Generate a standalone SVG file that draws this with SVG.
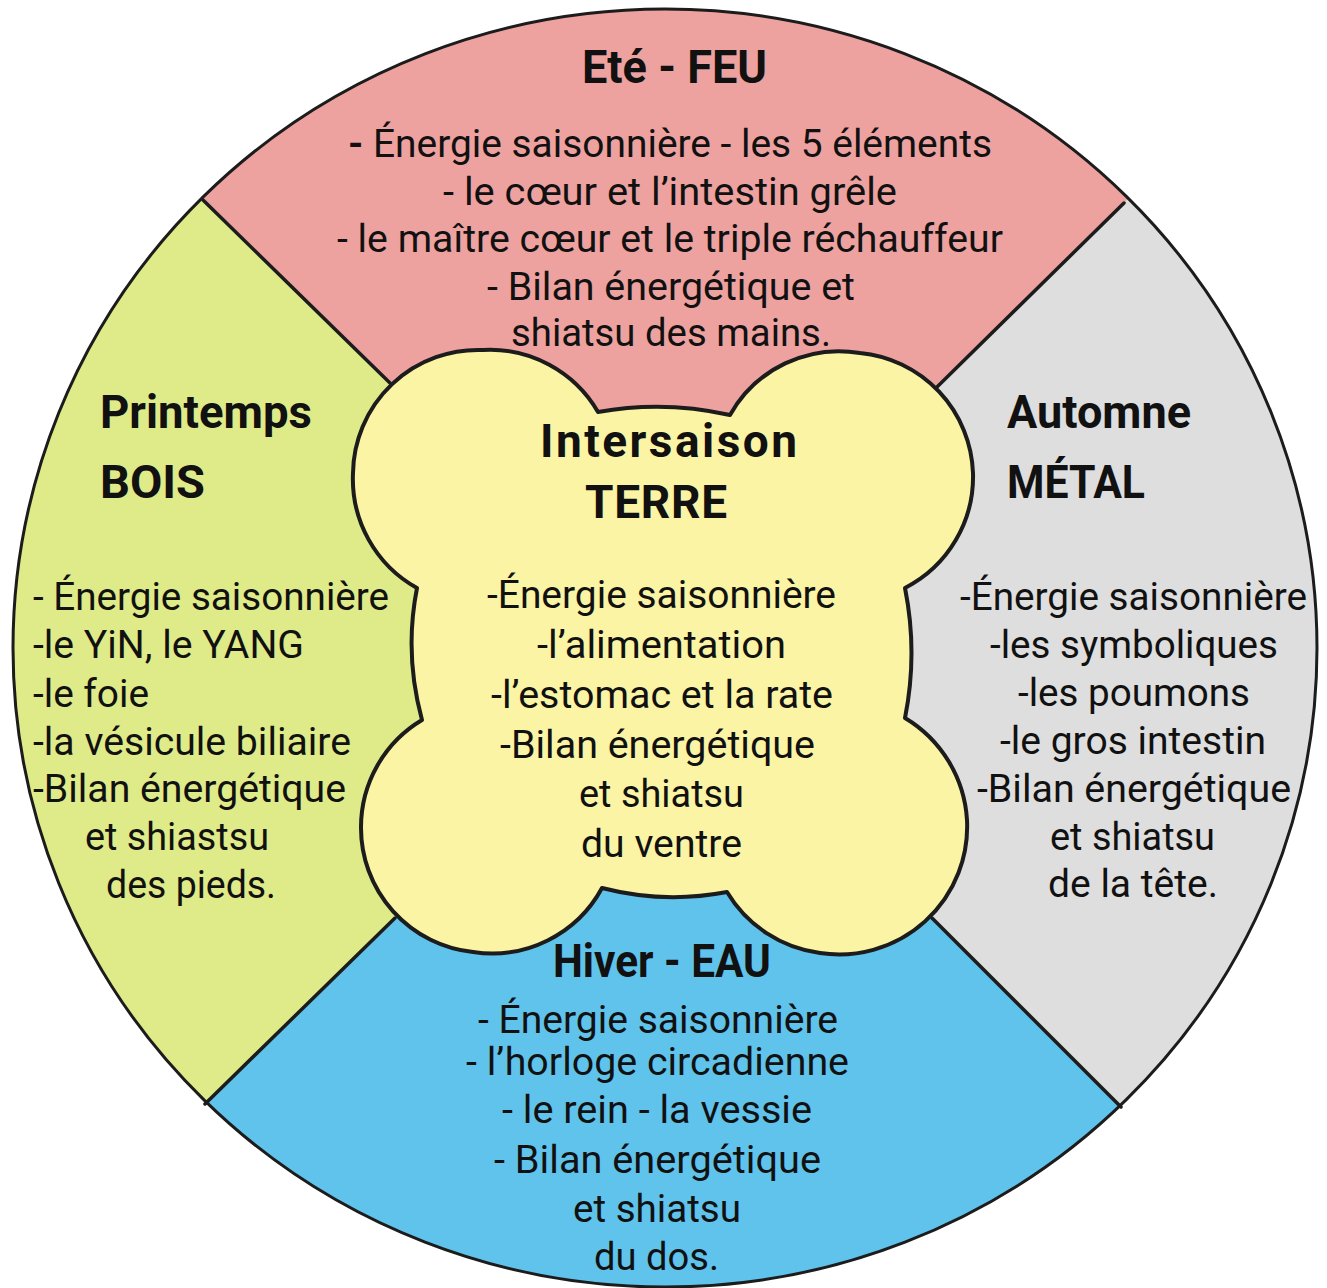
<svg xmlns="http://www.w3.org/2000/svg" width="1327" height="1288" viewBox="0 0 1327 1288">
  <style>
    .t { font-family: Roboto, "Liberation Sans", sans-serif; font-size: 38px; fill: #111; }
    .h { font-family: Roboto, "Liberation Sans", sans-serif; font-size: 46px; font-weight: 700; fill: #111; }
    .line { stroke: #1c1c1c; stroke-width: 3.5; fill: none; stroke-linecap: round; }
  </style>
  <defs>
    <clipPath id="disc">
      <ellipse cx="665" cy="648" rx="652" ry="639"/>
    </clipPath>
  </defs>
  <rect width="1327" height="1288" fill="#ffffff"/>

  <g id="sectors" clip-path="url(#disc)">
    <polygon id="bg-ete" fill="#eda2a0" points="-96,-93 1423,-91 937,387 665,650 390,383"/>
    <polygon id="bg-automne" fill="#dedede" points="1423,-91 1429,1417 932,918 665,650 937,387"/>
    <polygon id="bg-hiver" fill="#60c3ec" points="1429,1417 -99,1404 395,918 665,650 932,918"/>
    <polygon id="bg-printemps" fill="#dfea88" points="-99,1404 -96,-93 390,383 665,650 395,918"/>
  </g>

  <g id="connectors">
    <line class="line" x1="203" y1="200" x2="390" y2="383"/>
    <line class="line" x1="1124" y1="203" x2="937" y2="387"/>
    <line class="line" x1="205" y1="1104" x2="395" y2="918"/>
    <line class="line" x1="1121" y1="1107" x2="932" y2="918"/>
  </g>

  <ellipse id="outline" cx="665" cy="648" rx="652" ry="639" fill="none" stroke="#1c1c1c" stroke-width="3"/>

  <g id="center-intersaison">
    <path fill="#fbf4a4" stroke="#1c1c1c" stroke-width="4" stroke-linejoin="round"
      d="M598,412 Q664,400 730,415
         A125,125 0 0 1 860,353 A125,125 0 0 1 973,473 A125,125 0 0 1 905,588
         Q918,653 905,718
         A128,128 0 0 1 967,820 A128,128 0 0 1 820,953 A128,128 0 0 1 727,892
         Q664,904 602,888
         A125,125 0 0 1 473,952 A125,125 0 0 1 361,827 A125,125 0 0 1 422,720
         Q404,654 417,588
         A125,125 0 0 1 353,473 A125,125 0 0 1 483,350 A125,125 0 0 1 598,412 Z"/>
    <text class="h" x="540" y="457" font-size="42" textLength="257" lengthAdjust="spacing">Intersaison</text>
    <text class="h" x="585" y="518" font-size="42" textLength="142" lengthAdjust="spacing">TERRE</text>
    <text class="t" x="487" y="608" textLength="349" lengthAdjust="spacingAndGlyphs">-Énergie saisonnière</text>
    <text class="t" x="537" y="658" textLength="249" lengthAdjust="spacingAndGlyphs">-l’alimentation</text>
    <text class="t" x="491" y="708" textLength="342" lengthAdjust="spacingAndGlyphs">-l’estomac et la rate</text>
    <text class="t" x="500" y="758" textLength="315" lengthAdjust="spacingAndGlyphs">-Bilan énergétique</text>
    <text class="t" x="579" y="807" textLength="165" lengthAdjust="spacingAndGlyphs">et shiatsu</text>
    <text class="t" x="581" y="857" textLength="161" lengthAdjust="spacingAndGlyphs">du ventre</text>
  </g>

  <g id="sector-ete">
    <text class="h" x="582" y="83" font-size="50" textLength="185" lengthAdjust="spacingAndGlyphs">Eté - FEU</text>
    <text class="t" x="348" y="157" textLength="644" lengthAdjust="spacingAndGlyphs"><tspan font-weight="700">-</tspan> Énergie saisonnière - les 5 éléments</text>
    <text class="t" x="443" y="205" textLength="454" lengthAdjust="spacingAndGlyphs">- le cœur et l’intestin grêle</text>
    <text class="t" x="337" y="252" textLength="666" lengthAdjust="spacingAndGlyphs">- le maître cœur et le triple réchauffeur</text>
    <text class="t" x="487" y="300" textLength="368" lengthAdjust="spacingAndGlyphs">- Bilan énergétique et</text>
    <text class="t" x="511" y="346" textLength="320" lengthAdjust="spacingAndGlyphs">shiatsu des mains.</text>
  </g>

  <g id="sector-printemps">
    <text class="h" x="100" y="428" textLength="212" lengthAdjust="spacingAndGlyphs">Printemps</text>
    <text class="h" x="100" y="498" textLength="105" lengthAdjust="spacingAndGlyphs">BOIS</text>
    <text class="t" x="33" y="610" textLength="356" lengthAdjust="spacingAndGlyphs">- Énergie saisonnière</text>
    <text class="t" x="33" y="658" textLength="271" lengthAdjust="spacingAndGlyphs">-le YiN, le YANG</text>
    <text class="t" x="33" y="707" textLength="116" lengthAdjust="spacingAndGlyphs">-le foie</text>
    <text class="t" x="33" y="755" textLength="318" lengthAdjust="spacingAndGlyphs">-la vésicule biliaire</text>
    <text class="t" x="33" y="802" textLength="313" lengthAdjust="spacingAndGlyphs">-Bilan énergétique</text>
    <text class="t" x="85" y="850" textLength="184" lengthAdjust="spacingAndGlyphs">et shiastsu</text>
    <text class="t" x="106" y="898" textLength="170" lengthAdjust="spacingAndGlyphs">des pieds.</text>
  </g>

  <g id="sector-automne">
    <text class="h" x="1007" y="428" textLength="184" lengthAdjust="spacingAndGlyphs">Automne</text>
    <text class="h" x="1007" y="498" textLength="138" lengthAdjust="spacingAndGlyphs">MÉTAL</text>
    <text class="t" x="960" y="610" textLength="347" lengthAdjust="spacingAndGlyphs">-Énergie saisonnière</text>
    <text class="t" x="990" y="658" textLength="288" lengthAdjust="spacingAndGlyphs">-les symboliques</text>
    <text class="t" x="1018" y="706" textLength="232" lengthAdjust="spacingAndGlyphs">-les poumons</text>
    <text class="t" x="1000" y="754" textLength="266" lengthAdjust="spacingAndGlyphs">-le gros intestin</text>
    <text class="t" x="977" y="802" textLength="314" lengthAdjust="spacingAndGlyphs">-Bilan énergétique</text>
    <text class="t" x="1050" y="850" textLength="165" lengthAdjust="spacingAndGlyphs">et shiatsu</text>
    <text class="t" x="1048" y="897" textLength="170" lengthAdjust="spacingAndGlyphs">de la tête.</text>
  </g>

  <g id="sector-hiver">
    <text class="h" x="553" y="977" font-size="45" textLength="218" lengthAdjust="spacingAndGlyphs">Hiver - EAU</text>
    <text class="t" x="478" y="1033" textLength="360" lengthAdjust="spacingAndGlyphs">- Énergie saisonnière</text>
    <text class="t" x="466" y="1075" textLength="383" lengthAdjust="spacingAndGlyphs">- l’horloge circadienne</text>
    <text class="t" x="502" y="1123" textLength="310" lengthAdjust="spacingAndGlyphs">- le rein - la vessie</text>
    <text class="t" x="494" y="1173" textLength="327" lengthAdjust="spacingAndGlyphs">- Bilan énergétique</text>
    <text class="t" x="573" y="1222" textLength="168" lengthAdjust="spacingAndGlyphs">et shiatsu</text>
    <text class="t" x="594" y="1270" textLength="125" lengthAdjust="spacingAndGlyphs">du dos.</text>
  </g>
</svg>
